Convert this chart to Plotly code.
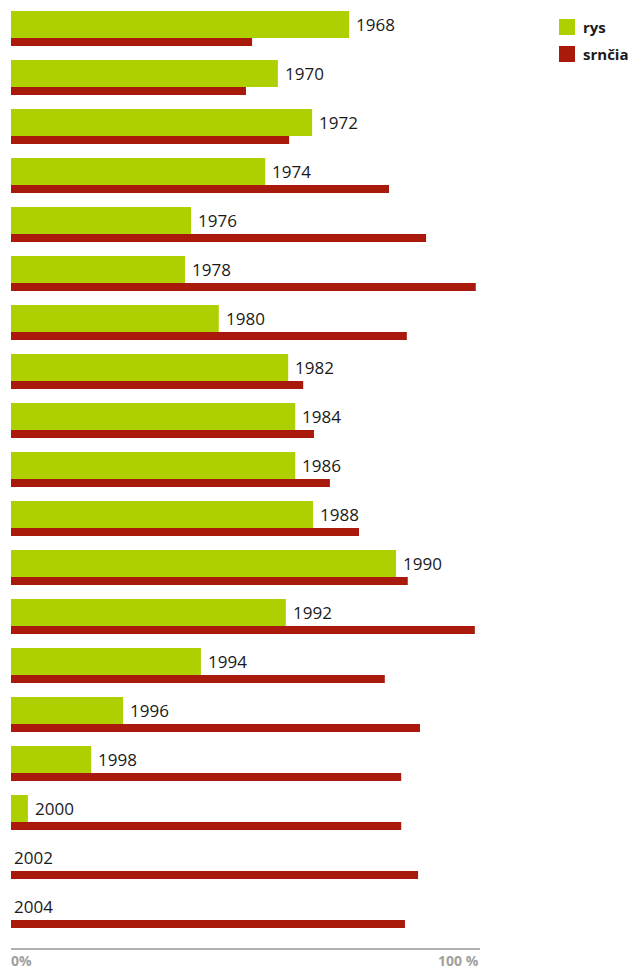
import plotly.graph_objects as go

years = ["1968", "1970", "1972", "1974", "1976", "1978", "1980", "1982", "1984", "1986",
         "1988", "1990", "1992", "1994", "1996", "1998", "2000", "2002", "2004"]
rys = [72.1, 56.9, 64.2, 54.2, 38.4, 37.1, 44.3, 59.1, 60.6, 60.6,
       64.4, 82.1, 58.6, 40.5, 23.9, 17.1, 3.6, 0, 0]
srncia = [51.4, 50.1, 59.3, 80.6, 88.5, 99.1, 84.4, 62.3, 64.6, 68.0,
          74.2, 84.6, 98.9, 79.7, 87.2, 83.2, 83.2, 86.8, 84.0]
x_tick_labels = ["0%", "100 %"]
series_names = ["rys", "srnčia"]

GREEN = "#aed000"
RED = "#aa1a0c"
FONT = "Open Sans"

# page body has an 8px default margin; the figure is sized to fit the window
OFF = 8
W, H = 638 - OFF, 969 - OFF

pos = list(range(len(years)))
row_px = 49.0
g_off, g_w = -17.5 / row_px, 27 / row_px
r_off, r_w = g_off + g_w, 8 / row_px

fig = go.Figure()
fig.add_trace(go.Bar(
    name=series_names[0], y=pos, x=rys, orientation="h",
    offset=g_off, width=g_w, marker=dict(color=GREEN, line=dict(width=0)),
    hoverinfo="skip",
))
fig.add_trace(go.Bar(
    name=series_names[1], y=pos, x=srncia, orientation="h",
    offset=r_off, width=r_w, marker=dict(color=RED, line=dict(width=0)),
    hoverinfo="skip",
))

plot_left_page = 11
plot_w = 469
plot_top_page = OFF
axis_page = 948
plot_h = axis_page - plot_top_page


def px_x(p):
    return (p - plot_left_page) / plot_w


def px_y(p):
    return 1 - (p - plot_top_page) / plot_h


annotations = []
for p, yr, v in zip(pos, years, rys):
    annotations.append(dict(
        x=v, y=p + g_off + g_w / 2, xref="x", yref="y", text=yr,
        showarrow=False, xanchor="left", yanchor="middle",
        xshift=5 if v > 0 else 1,
        font=dict(family=FONT, size=17, color="#1a1a1a"),
    ))
annotations.append(dict(
    x=0, y=0, xref="x", yref="paper", text="<b>" + x_tick_labels[0] + "</b>",
    showarrow=False, xanchor="left", yanchor="top", yshift=-1, xshift=-2,
    font=dict(family=FONT, size=14, color="#a0a0a0"),
))
annotations.append(dict(
    x=100, y=0, xref="x", yref="paper", text="<b>" + x_tick_labels[1] + "</b>",
    showarrow=False, xanchor="right", yanchor="top", yshift=-1, xshift=1,
    font=dict(family=FONT, size=14, color="#a0a0a0"),
))

# legend drawn as key squares + labels
shapes = []
for name, col, top in zip(series_names, [GREEN, RED], [19, 46]):
    shapes.append(dict(
        type="rect", xref="paper", yref="paper",
        x0=px_x(559), x1=px_x(575), y0=px_y(top), y1=px_y(top + 16),
        fillcolor=col, line=dict(width=0),
    ))
    annotations.append(dict(
        x=px_x(581), y=px_y(top + 8), xref="paper", yref="paper",
        text="<b>" + name + "</b>", showarrow=False,
        xanchor="left", yanchor="middle",
        font=dict(family=FONT, size=15, color="#1a1a1a"),
    ))

top_data = (plot_top_page - 28.5) / row_px
bottom_data = (axis_page - 28.5) / row_px

fig.update_layout(
    width=W, height=H,
    margin=dict(l=plot_left_page - OFF, r=W - (plot_left_page - OFF) - plot_w, t=0,
                b=H - plot_h, pad=0),
    barmode="overlay",
    plot_bgcolor="white", paper_bgcolor="white",
    showlegend=False,
    xaxis=dict(range=[0, 100], showgrid=False, zeroline=False,
               showticklabels=False, showline=True, linecolor="#b0b0b0",
               linewidth=2, ticks="", fixedrange=True),
    yaxis=dict(range=[bottom_data, top_data], showgrid=False, zeroline=False,
               showticklabels=False, showline=False, ticks="", fixedrange=True),
    annotations=annotations,
    shapes=shapes,
)

fig.write_html("out.html", config={"displayModeBar": False})
